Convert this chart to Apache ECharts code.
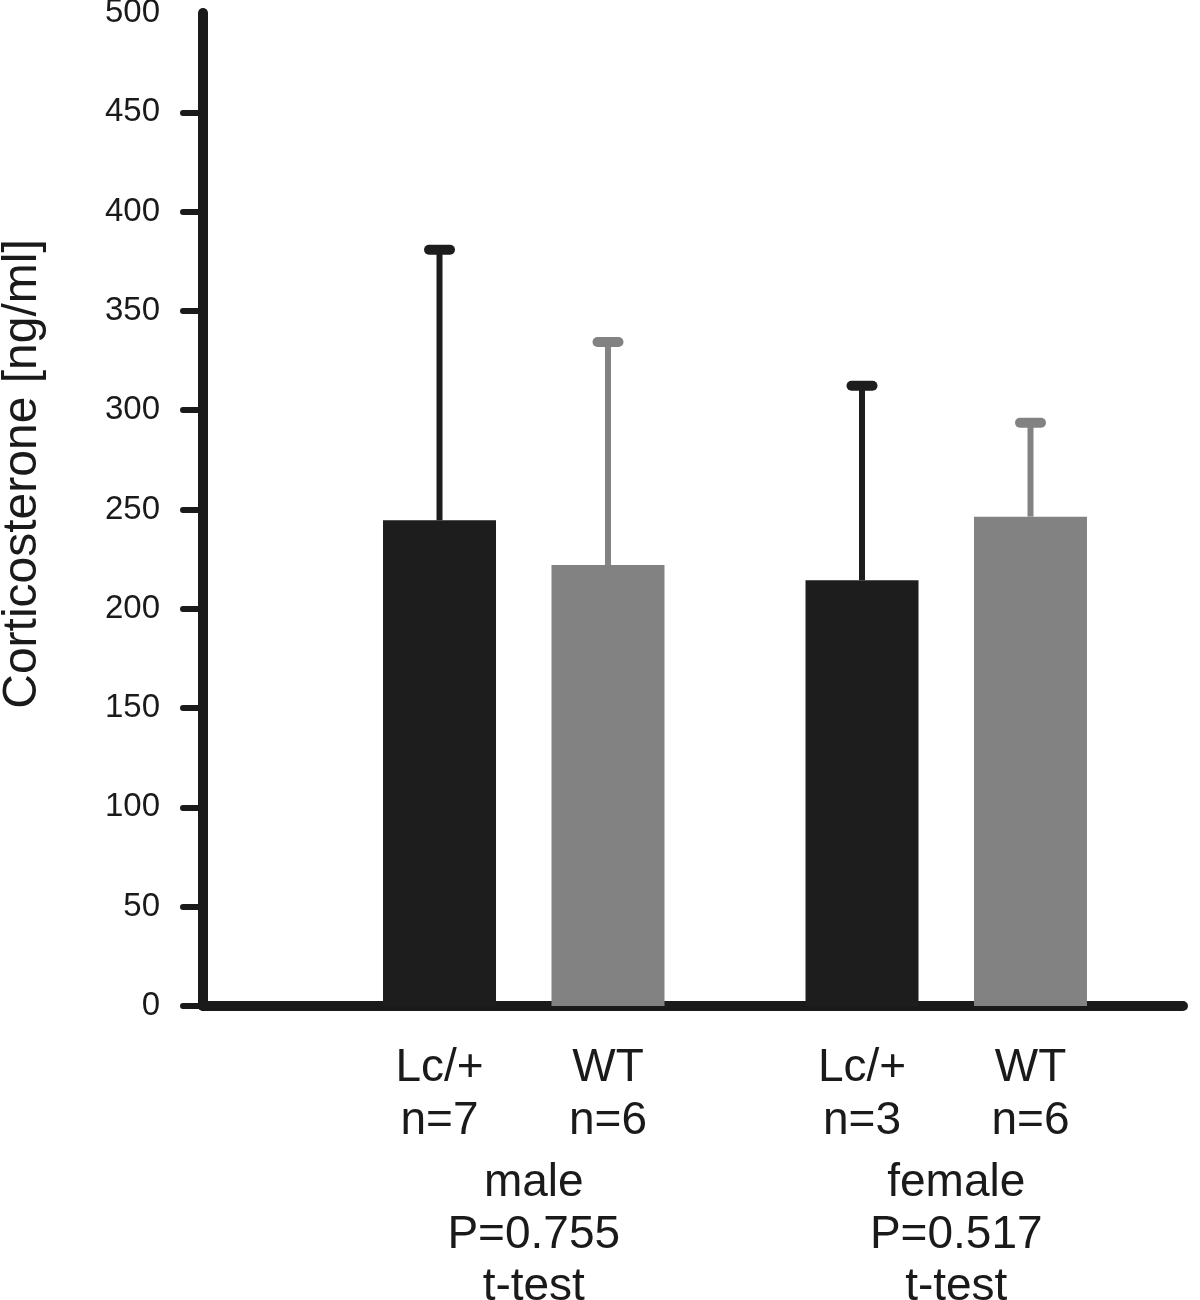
<!DOCTYPE html>
<html><head><meta charset="utf-8">
<script src="https://cdn.jsdelivr.net/npm/echarts@6/dist/echarts.min.js"></script>
<style>html,body{margin:0;padding:0;background:#fff}#chart{width:1200px;height:1300px}</style>
</head><body><div id="chart"></div>
<script>
// ---- data ----
const groups = ['male', 'female'];
const groupP = ['P=0.755', 'P=0.517'];
const groupTest = ['t-test', 't-test'];
const seriesNames = ['Lc/+', 'WT'];
const lcMean = [244.6, 214.4];
const lcErrTop = [380.8, 312.3];
const lcN = [7, 3];
const wtMean = [222.1, 246.4];
const wtErrTop = [334.3, 293.7];
const wtN = [6, 6];
const yTicks = [0, 50, 100, 150, 200, 250, 300, 350, 400, 450];

// ---- layout / style ----
const FONT = "'Liberation Sans', Arial, sans-serif";
const INK = '#1a1a1a';
const LC_COLOR = '#1d1d1d';
const WT_COLOR = '#828282';
const BAR_W = 113;
const GAP_RATIO = 0.491;
const HALF_PITCH = (BAR_W + BAR_W * GAP_RATIO) / 2;

function errRender(sign, color) {
  return function (params, api) {
    const cat = api.value(0);
    const base = api.coord([cat, api.value(1)]);
    const top = api.coord([cat, api.value(2)]);
    const x = base[0] + sign * HALF_PITCH;
    return {
      type: 'group',
      children: [
        { type: 'line', shape: { x1: x, y1: base[1], x2: x, y2: top[1] }, style: { stroke: color, lineWidth: 6 } },
        { type: 'line', shape: { x1: x - 10.5, y1: top[1], x2: x + 10.5, y2: top[1] }, style: { stroke: color, lineWidth: 10, lineCap: 'round' } }
      ]
    };
  };
}

const nArrays = [lcN, wtN];

const option = {
  backgroundColor: '#ffffff',
  animation: false,
  textStyle: { fontFamily: FONT, color: INK },
  grid: [
    { left: 203, right: 17, top: 13, bottom: 294, containLabel: false, outerBoundsMode: 'none' },
    { left: 312.5, right: 42.5, top: 13, bottom: 294, containLabel: false, outerBoundsMode: 'none' }
  ],
  xAxis: [
    {
      gridIndex: 0, type: 'value', min: 0, max: 1,
      axisLine: { show: true, lineStyle: { color: INK, width: 10, cap: 'round' } },
      axisTick: { show: false }, axisLabel: { show: false }, splitLine: { show: false }
    },
    {
      gridIndex: 1, type: 'category', data: groups,
      axisLine: { show: false }, axisTick: { show: false }, splitLine: { show: false },
      axisLabel: {
        margin: 151,
        fontSize: 46, lineHeight: 52, color: INK, fontFamily: FONT, align: 'center',
        padding: [0, 0, 0, 20],
        formatter: function (v, i) { return v + '\n' + groupP[i] + '\n' + groupTest[i]; }
      }
    }
  ],
  yAxis: [
    {
      gridIndex: 0, type: 'value', min: 0, max: 500, interval: 50,
      name: 'Corticosterone [ng/ml]', nameLocation: 'middle', nameRotate: 90, nameGap: 156,
      nameTextStyle: { fontSize: 48, color: INK, fontFamily: FONT, padding: [0, 0, 0, 71] },
      axisLine: { show: true, lineStyle: { color: INK, width: 10, cap: 'round' } },
      axisTick: { show: true, inside: false, length: 20, customValues: yTicks, lineStyle: { color: INK, width: 6, cap: 'round' } },
      axisLabel: { margin: 43, fontSize: 33, color: INK, fontFamily: FONT },
      splitLine: { show: false }
    },
    {
      gridIndex: 1, type: 'value', min: 0, max: 500, show: false, splitLine: { show: false }
    }
  ],
  series: [
    {
      name: seriesNames[0], type: 'bar', xAxisIndex: 1, yAxisIndex: 1,
      data: lcMean, barWidth: BAR_W, barGap: (GAP_RATIO * 100) + '%',
      itemStyle: { color: LC_COLOR },
      label: {
        show: true, position: 'bottom', distance: 36,
        fontSize: 46, lineHeight: 53, color: INK, fontFamily: FONT, align: 'center',
        formatter: function (p) { return p.seriesName + '\nn=' + nArrays[0][p.dataIndex]; }
      }
    },
    {
      name: seriesNames[1], type: 'bar', xAxisIndex: 1, yAxisIndex: 1,
      data: wtMean, barWidth: BAR_W, barGap: (GAP_RATIO * 100) + '%',
      itemStyle: { color: WT_COLOR },
      label: {
        show: true, position: 'bottom', distance: 36,
        fontSize: 46, lineHeight: 53, color: INK, fontFamily: FONT, align: 'center',
        formatter: function (p) { return p.seriesName + '\nn=' + nArrays[1][p.dataIndex]; }
      }
    },
    {
      type: 'custom', xAxisIndex: 1, yAxisIndex: 1, clip: false, z: 3,
      renderItem: errRender(-1, LC_COLOR),
      encode: { x: 0, y: [1, 2] },
      data: groups.map(function (g, i) { return [i, lcMean[i], lcErrTop[i]]; })
    },
    {
      type: 'custom', xAxisIndex: 1, yAxisIndex: 1, clip: false, z: 3,
      renderItem: errRender(1, WT_COLOR),
      encode: { x: 0, y: [1, 2] },
      data: groups.map(function (g, i) { return [i, wtMean[i], wtErrTop[i]]; })
    }
  ]
};

const chart = echarts.init(document.getElementById('chart'), null, { renderer: 'canvas' });
chart.setOption(option);
</script>
</body></html>
